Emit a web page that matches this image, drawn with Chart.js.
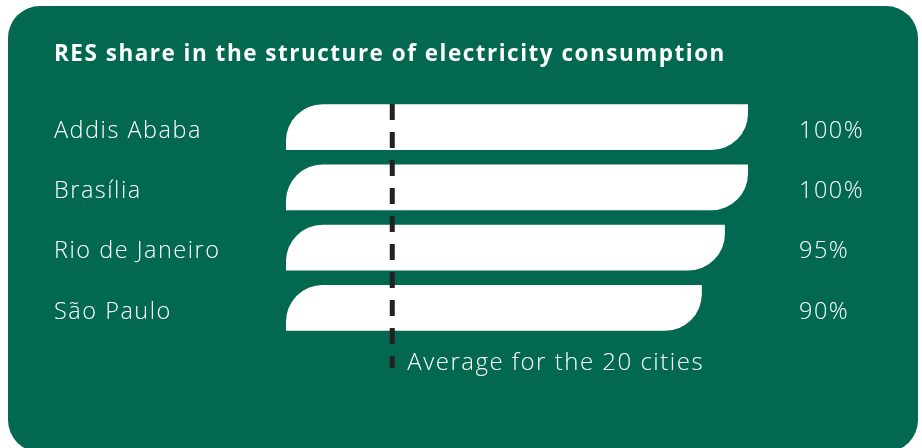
<!DOCTYPE html>
<html>
<head>
<meta charset="utf-8">
<script src="https://cdn.jsdelivr.net/npm/chart.js@4.4.1/dist/chart.umd.min.js"></script>
<style>
    html, body { margin: 0; padding: 0; background: #ffffff; }
    #card {
        position: absolute; left: 8px; top: 6px; width: 910px; height: 446px;
        background: #02684f; border-radius: 32px;
    }
    #chart { position: absolute; left: 0; top: 0; }
</style>
</head>
<body>
<div id="card"></div>
<canvas id="chart" width="922" height="448"></canvas>
<script>
    const cities = ['Addis Ababa', 'Brasília', 'Rio de Janeiro', 'São Paulo'];
    const resShare = [100, 100, 95, 90];
    const shareLabels = ['100%', '100%', '95%', '90%'];
    const averageShare = 23;
    const averageLabel = 'Average for the 20 cities';

    const FONT = '"Open Sans", "DejaVu Sans", sans-serif';

    // the original font is wider, so open the letters up a little
    const spacing = {
        id: 'spacing',
        beforeDraw(chart) { chart.ctx.letterSpacing = '1.5px'; },
        afterDraw(chart) { chart.ctx.letterSpacing = '0px'; }
    };

    // white "leaf" bars: rounded top-left and bottom-right corners
    const leafBars = {
        id: 'leafBars',
        afterDatasetsDraw(chart) {
            const ctx = chart.ctx;
            const meta = chart.getDatasetMeta(0);
            ctx.save();
            ctx.fillStyle = '#ffffff';
            meta.data.forEach(bar => {
                const p = bar.getProps(['x', 'y', 'base', 'height'], true);
                const left = p.base, right = p.x;
                const top = p.y - p.height / 2, bottom = p.y + p.height / 2;
                const r = Math.min(37, p.height * 0.8);
                ctx.beginPath();
                ctx.moveTo(left, bottom);
                ctx.lineTo(left, top + r);
                ctx.arcTo(left, top, left + r, top, r);
                ctx.lineTo(right, top);
                ctx.lineTo(right, bottom - r);
                ctx.arcTo(right, bottom, right - r, bottom, r);
                ctx.closePath();
                ctx.fill();
            });

            // value labels on the right
            ctx.fillStyle = '#ffffff';
            ctx.font = '300 23.5px ' + FONT;
            ctx.textAlign = 'left';
            ctx.textBaseline = 'middle';
            meta.data.forEach((bar, i) => {
                ctx.fillText(shareLabels[i], chart.chartArea.right + 51, bar.y + 4);
            });

            // average dashed line
            const ax = chart.scales.x.getPixelForValue(averageShare);
            ctx.strokeStyle = '#222222';
            ctx.lineWidth = 5;
            ctx.setLineDash([16, 12]);
            ctx.beginPath();
            ctx.moveTo(ax, chart.chartArea.top + 7);
            ctx.lineTo(ax, chart.chartArea.bottom + 30);
            ctx.stroke();
            ctx.setLineDash([]);

            ctx.fillStyle = '#ffffff';
            ctx.font = '300 24px ' + FONT;
            ctx.fillText(averageLabel, ax + 15, chart.chartArea.bottom + 25);
            ctx.restore();
        }
    };

    new Chart(document.getElementById('chart'), {
        type: 'bar',
        data: {
            labels: cities,
            datasets: [{
                data: resShare,
                backgroundColor: 'rgba(0,0,0,0)',
                borderWidth: 0,
                barPercentage: 0.76,
                categoryPercentage: 1
            }]
        },
        options: {
            indexAxis: 'y',
            responsive: false,
            animation: false,
            devicePixelRatio: 1,
            layout: { padding: { left: 54, right: 174, top: 0, bottom: 110 } },
            plugins: {
                legend: { display: false },
                tooltip: { enabled: false },
                title: {
                    display: true,
                    text: 'RES share in the structure of electricity consumption',
                    align: 'start',
                    color: '#ffffff',
                    font: { family: FONT, size: 22.5, weight: 'bold' },
                    padding: { top: 41, bottom: 29 }
                }
            },
            scales: {
                x: {
                    min: 0, max: 100,
                    display: false,
                    grid: { display: false }
                },
                y: {
                    grid: { display: false },
                    border: { display: false },
                    afterFit(scale) { scale.width = 232; },
                    ticks: {
                        crossAlign: 'far',
                        labelOffset: 4,
                        color: '#ffffff',
                        font: { family: FONT, size: 23.5, weight: 300 }
                    }
                }
            }
        },
        plugins: [spacing, leafBars]
    });
</script>
</body>
</html>
